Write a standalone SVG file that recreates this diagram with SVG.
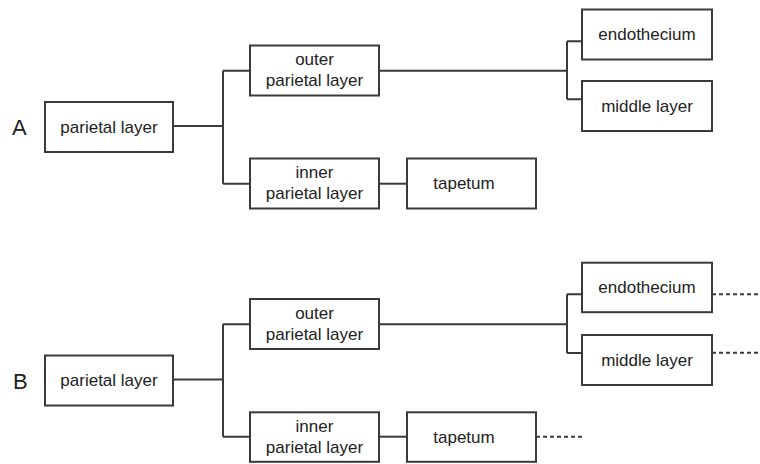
<svg xmlns="http://www.w3.org/2000/svg" width="760" height="464" viewBox="0 0 760 464">
<style>
.box{fill:#fff;stroke:#3a3a3a;stroke-width:2}
.t{font-family:"Liberation Sans",Arial,sans-serif;font-size:17px;fill:#222;text-anchor:middle}
.lbl{font-family:"Liberation Sans",Arial,sans-serif;font-size:22px;fill:#222}
.c{fill:none;stroke:#3a3a3a;stroke-width:2}
.d{fill:none;stroke:#3a3a3a;stroke-width:2;stroke-dasharray:4 3}
</style>
<rect width="760" height="464" fill="#fff"/>
<g id="connectors">
<path class="c" d="M173 126H223M223 70.7V183.7M223 70.7H250M223 183.7H250"/>
<path class="c" d="M379 70.7H567M567 41.3V99.3M567 41.3H582M567 99.3H582"/>
<path class="c" d="M379 183.7H407"/>
<path class="c" d="M173 379.5H223M223 324.3V436.7M223 324.3H250M223 436.7H250"/>
<path class="c" d="M379 324.3H567M567 294.3V353M567 294.3H582M567 353H582"/>
<path class="c" d="M379 436.7H407"/>
<path class="d" d="M712 294.3H760M712 352.7H760M536 436.7H583"/>
</g>
<text class="lbl" x="12" y="135">A</text>
<text class="lbl" x="13" y="389">B</text>
<g id="a-parietal"><rect class="box" x="45" y="102" width="128" height="50"/><text class="t" x="109" y="133">parietal layer</text></g>
<g id="a-outer"><rect class="box" x="250" y="45.5" width="129" height="50"/><text class="t" x="314.5" y="65">outer</text><text class="t" x="314.5" y="86">parietal layer</text></g>
<g id="a-inner"><rect class="box" x="250" y="158.5" width="129" height="50"/><text class="t" x="314.5" y="178">inner</text><text class="t" x="314.5" y="199">parietal layer</text></g>
<g id="a-endothecium"><rect class="box" x="582" y="9.5" width="130" height="50"/><text class="t" x="647" y="40">endothecium</text></g>
<g id="a-middle"><rect class="box" x="582" y="81" width="130" height="50"/><text class="t" x="647" y="112">middle layer</text></g>
<g id="a-tapetum"><rect class="box" x="407" y="158.5" width="129" height="50"/><text class="t" x="464" y="189">tapetum</text></g>
<g id="b-parietal"><rect class="box" x="45" y="355.5" width="128" height="50"/><text class="t" x="109" y="386">parietal layer</text></g>
<g id="b-outer"><rect class="box" x="250" y="299" width="129" height="50"/><text class="t" x="314.5" y="318.5">outer</text><text class="t" x="314.5" y="339.5">parietal layer</text></g>
<g id="b-inner"><rect class="box" x="250" y="412.3" width="129" height="49.5"/><text class="t" x="314.5" y="431.5">inner</text><text class="t" x="314.5" y="452.5">parietal layer</text></g>
<g id="b-endothecium"><rect class="box" x="582" y="262.7" width="130" height="49.5"/><text class="t" x="647" y="293">endothecium</text></g>
<g id="b-middle"><rect class="box" x="582" y="335" width="130" height="50"/><text class="t" x="647" y="365.5">middle layer</text></g>
<g id="b-tapetum"><rect class="box" x="407" y="412.3" width="129" height="49.5"/><text class="t" x="464" y="442.5">tapetum</text></g>
</svg>
